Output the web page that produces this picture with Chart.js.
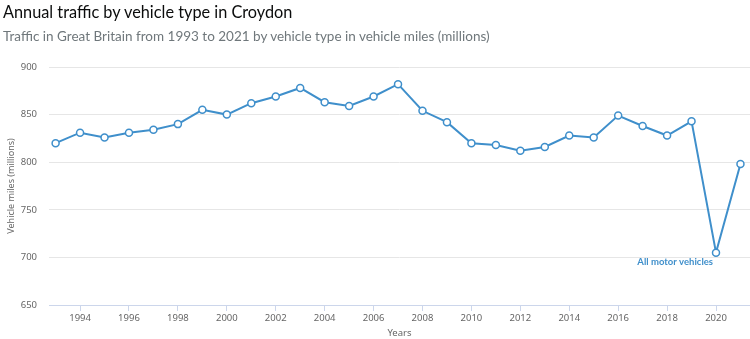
<!DOCTYPE html>
<html>
<head>
<meta charset="utf-8">
<script src="https://cdn.jsdelivr.net/npm/chart.js@4"></script>
<style>
  body { margin: 0; background: #fff; }
  #wrap { position: relative; width: 750px; height: 339px; }
  #title { position: absolute; left: 3px; top: 2px; margin: 0; font: 16.3px Lato, sans-serif; color: #0b0c0c; white-space: nowrap; }
  #subtitle { position: absolute; left: 3px; top: 28px; margin: 0; font: 13.5px Lato, sans-serif; color: #6f777b; white-space: nowrap; }
  canvas { position: absolute; left: 0; top: 0; }
</style>
</head>
<body>
<div id="wrap">
  <canvas id="chart" width="750" height="339"></canvas>
  <div id="title">Annual traffic by vehicle type in Croydon</div>
  <div id="subtitle">Traffic in Great Britain from 1993 to 2021 by vehicle type in vehicle miles (millions)</div>
</div>
<script>
const years = [1993, 1994, 1995, 1996, 1997, 1998, 1999, 2000, 2001, 2002, 2003, 2004, 2005, 2006, 2007,
               2008, 2009, 2010, 2011, 2012, 2013, 2014, 2015, 2016, 2017, 2018, 2019, 2020, 2021]
const allMotor = [820, 831, 826, 831, 834, 840, 855, 850, 862, 869, 878, 863, 859, 869, 882,
                  854, 842, 820, 818, 812, 816, 828, 826, 849, 838, 828, 843, 705, 798]
const xTicks = [1994, 1996, 1998, 2000, 2002, 2004, 2006, 2008, 2010, 2012, 2014, 2016, 2018, 2020]
const yTicks = [650, 700, 750, 800, 850, 900]
const seriesName = 'All motor vehicles'
const blue = '#3f8fcb'

// label next to the 2020 point
const endLabel = {
    id: 'endLabel',
    afterDatasetsDraw(chart) {
        const meta = chart.getDatasetMeta(0)
        const i = years.indexOf(2020)
        const pt = meta.data[i]
        const ctx = chart.ctx
        ctx.save()
        ctx.font = 'bold 9.5px Lato, sans-serif'
        ctx.fillStyle = blue
        ctx.textAlign = 'right'
        ctx.textBaseline = 'middle'
        ctx.fillText(seriesName, pt.x - 3, pt.y + 9)
        ctx.restore()
    }
}

new Chart(document.getElementById('chart'), {
    type: 'line',
    data: {
        datasets: [{
            label: seriesName,
            data: years.map((y, i) => ({ x: y, y: allMotor[i] })),
            borderColor: blue,
            borderWidth: 2,
            pointRadius: 3.5,
            pointBorderWidth: 1.5,
            pointBackgroundColor: '#fff',
            pointBorderColor: blue,
            tension: 0
        }]
    },
    options: {
        responsive: false,
        animation: false,
        layout: { autoPadding: false, padding: { top: 67, left: 6, right: 0, bottom: 0 } },
        plugins: { legend: { display: false }, tooltip: { enabled: false } },
        scales: {
            x: {
                type: 'linear',
                min: 1992.73,
                max: 2021.39,
                afterBuildTicks: s => { s.ticks = xTicks.map(v => ({ value: v })) },
                afterFit: s => { s.height = 34 },
                border: { color: '#ccd6eb' },
                grid: { drawOnChartArea: false, color: '#ccd6eb', tickLength: 6 },
                ticks: { color: '#666', font: { family: '"Noto Sans", sans-serif', size: 9.5 }, padding: 2, maxRotation: 0, callback: v => String(v) },
                title: { display: true, text: 'Years', color: '#666', font: { family: '"Noto Sans", sans-serif', size: 9.5 }, padding: { top: 2, bottom: 0 } }
            },
            y: {
                min: 650,
                max: 900,
                afterBuildTicks: s => { s.ticks = yTicks.map(v => ({ value: v })) },
                afterFit: s => { s.width = 43 },
                border: { display: false },
                grid: { color: '#e6e6e6', drawTicks: false },
                ticks: { color: '#666', font: { family: '"Noto Sans", sans-serif', size: 9.5 }, padding: 12 },
                title: { display: true, text: 'Vehicle miles (millions)', color: '#666', font: { family: '"Noto Sans", sans-serif', size: 9 }, padding: { top: 0, bottom: 0 } }
            }
        }
    },
    plugins: [endLabel]
})
</script>
</body>
</html>
